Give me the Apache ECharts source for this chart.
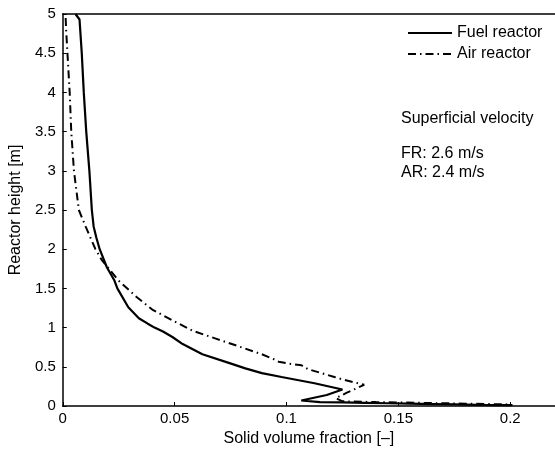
<!DOCTYPE html>
<html>
<head>
<meta charset="utf-8">
<script src="https://cdn.jsdelivr.net/npm/echarts@6/dist/echarts.min.js"></script>
<style>html,body{margin:0;padding:0;background:#fff;}#c{width:555px;height:453px;}</style>
</head>
<body>
<div id="c"></div>
<script>
// Series names
const seriesNames = ["Fuel reactor", "Air reactor"];
// Fuel reactor: [solid volume fraction, height]
const fuelReactor = [
  [0.0057,5.0],[0.0075,4.93],[0.0085,4.5],[0.0094,4.0],[0.0105,3.5],[0.0119,3.0],
  [0.0130,2.5],[0.0138,2.29],[0.0150,2.15],[0.0165,2.0],[0.0197,1.77],[0.0231,1.6],
  [0.0244,1.5],[0.0293,1.26],[0.0340,1.12],[0.0380,1.05],[0.0410,1.0],[0.0448,0.95],
  [0.0490,0.88],[0.0536,0.79],[0.0624,0.66],[0.0742,0.55],[0.0816,0.48],[0.0890,0.42],
  [0.0978,0.37],[0.1125,0.29],[0.1250,0.21],[0.1180,0.14],[0.1066,0.07],[0.1060,0.055],
  [0.1150,0.05],[0.1250,0.045],[0.1350,0.04],[0.1450,0.035],[0.1550,0.03],[0.1650,0.025],
  [0.1750,0.02],[0.1850,0.015],[0.1950,0.012],[0.2010,0.01]
];
// Air reactor: [solid volume fraction, height]
const airReactor = [
  [0.0013,4.95],[0.0015,4.8],[0.0021,4.5],[0.0031,4.0],[0.0038,3.5],[0.0050,3.0],
  [0.0072,2.5],[0.0102,2.29],[0.0146,2.0],[0.0175,1.86],[0.0249,1.6],[0.0330,1.39],
  [0.0400,1.23],[0.0492,1.09],[0.0580,0.96],[0.0684,0.86],[0.0787,0.76],[0.0890,0.66],
  [0.0941,0.60],[0.0965,0.565],[0.1010,0.54],[0.1067,0.52],[0.1096,0.47],[0.1214,0.37],
  [0.1250,0.34],[0.1347,0.27],[0.1270,0.17],[0.1220,0.10],[0.1250,0.06],[0.1400,0.05],
  [0.1600,0.04],[0.1800,0.03],[0.2000,0.02]
];
// Axis settings
const xTicks = [0, 0.05, 0.1, 0.15, 0.2];
const yTicks = [0, 0.5, 1, 1.5, 2, 2.5, 3, 3.5, 4, 4.5, 5];
// Annotation text
const noteLines = ["Superficial velocity", "FR: 2.6 m/s", "AR: 2.4 m/s"];
const noteTops = [111, 146, 165];

const FONT = "Liberation Sans, Arial, Helvetica, sans-serif";
const FS = 16;
const TFS = 15;
const chart = echarts.init(document.getElementById('c'), null, {renderer: 'canvas'});
chart.setOption({
  animation: false,
  backgroundColor: '#fff',
  grid: {left: 62, top: 14, bottom: 47, right: -5, containLabel: false},
  legend: {
    orient: 'vertical', left: 407, top: 25, itemWidth: 44, itemHeight: 14, itemGap: 5,
    padding: 0, itemStyle: {opacity: 0},
    textStyle: {fontFamily: FONT, fontSize: FS, color: '#000'},
    data: seriesNames
  },
  xAxis: [{
    type: 'value', min: 0, max: 0.22, interval: 0.05,
    name: 'Solid volume fraction [–]', nameLocation: 'middle', nameGap: 24,
    nameTextStyle: {fontFamily: FONT, fontSize: FS, color: '#000'},
    axisLine: {show: true, lineStyle: {color: '#000', width: 1.5}},
    axisTick: {show: true, inside: true, length: 4, lineStyle: {color: '#000'}},
    axisLabel: {show: true, showMaxLabel: false, fontFamily: FONT, fontSize: TFS, color: '#000', margin: 5,
      formatter: v => (xTicks.some(t => Math.abs(t - v) < 1e-9) ? String(+v.toFixed(2)) : '')},
    splitLine: {show: false}
  }, {
    type: 'value', min: 0, max: 0.22, position: 'top',
    axisLine: {show: true, lineStyle: {color: '#000', width: 1.5}},
    axisTick: {show: false}, axisLabel: {show: false}, splitLine: {show: false}
  }],
  yAxis: {
    type: 'value', min: 0, max: 5, interval: 0.5,
    name: 'Reactor height [m]', nameLocation: 'middle', nameGap: 31,
    nameTextStyle: {fontFamily: FONT, fontSize: FS, color: '#000'},
    axisLine: {show: true, lineStyle: {color: '#000', width: 1.5}},
    axisTick: {show: true, inside: true, length: 4, lineStyle: {color: '#000'}},
    axisLabel: {fontFamily: FONT, fontSize: TFS, color: '#000', margin: 7,
      formatter: v => String(+v.toFixed(1))},
    splitLine: {show: false}
  },
  graphic: noteLines.map((t, i) => ({
    type: 'text', left: 401, top: noteTops[i], silent: true,
    style: {text: t, font: FS + 'px ' + FONT, fill: '#000'}
  })),
  series: [{
    name: seriesNames[0], type: 'line', data: fuelReactor, symbol: 'none', smooth: false,
    lineStyle: {color: '#000', width: 2.2, type: 'solid'}, itemStyle: {color: '#000'}
  }, {
    name: seriesNames[1], type: 'line', data: airReactor, symbol: 'none', smooth: false,
    lineStyle: {color: '#000', width: 2, type: [8, 4, 1.5, 4]}, itemStyle: {color: '#000'}
  }]
});
</script>
</body>
</html>
